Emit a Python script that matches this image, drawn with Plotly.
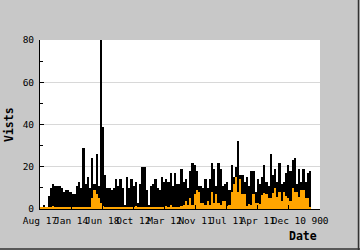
import plotly.graph_objects as go

# day index of each bar (one bar per week)
days = list(range(0, 875, 7))

# total visits (black bars)
visits = [1, 1, 2, 1, 6, 10, 12, 11, 11, 11,
          10, 8, 9, 9, 8, 7, 7, 11, 13, 10,
          29, 12, 15, 10, 24, 12, 26, 11, 80, 39,
          16, 10, 10, 9, 10, 14, 11, 14, 10, 2,
          15, 10, 14, 11, 13, 3, 12, 20, 20, 9,
          2, 11, 12, 14, 10, 9, 15, 13, 14, 13,
          17, 11, 17, 12, 12, 19, 13, 14, 10, 18,
          22, 21, 18, 11, 11, 10, 14, 10, 14, 22,
          19, 11, 22, 19, 11, 12, 13, 9, 21, 15,
          20, 32, 16, 16, 13, 15, 11, 18, 18, 8,
          14, 12, 15, 21, 13, 11, 26, 16, 19, 13,
          22, 12, 13, 17, 21, 18, 23, 24, 12, 19,
          13, 19, 13, 17, 18]

# secondary series (orange bars)
orange = [0.5, 0.5, 0.5, 0.5, 0.5, 0.5, 1.5, 0.5, 0.5, 0.5,
          0.5, 0.5, 0.5, 0.5, 1, 0.5, 0.5, 0.5, 0.5, 0.5,
          0.5, 0.5, 0.5, 1, 5, 9, 7, 5, 3, 1.5,
          0.5, 0.5, 0.5, 0.5, 0.5, 0.5, 0.5, 0.5, 0.5, 0.5,
          0.5, 1, 0.5, 0.5, 1.5, 0.5, 0.5, 0.5, 0.5, 0.5,
          0.5, 0.5, 0.5, 1, 0.5, 0.5, 0.5, 0.5, 1.5, 0.5,
          2, 0.5, 0.5, 0.5, 1, 1.5, 2, 4, 2, 5,
          2, 7, 9, 8, 3, 3, 2, 4, 2, 8,
          3, 7, 3, 2, 4, 4, 1.5, 2, 8, 12,
          15, 8, 14, 7, 7, 1.5, 2.5, 2, 7, 3,
          3, 2.5, 6.5, 7.5, 7, 5, 5, 7.5, 10, 5.5,
          8, 4, 8, 6, 5, 4, 10, 8, 8, 5.5,
          9, 9, 5, 5, 1]

tick_vals = [0, 100, 200, 300, 400, 500, 600, 700, 800, 900]
tick_text = ["Aug 17", "Jan 14", "Jun 18", "Oct 12", "Mar 12",
             "Nov 11", "Jul 11", "Apr 11", "Dec 10", "900"]

MONO = "DejaVu Sans Mono"

fig = go.Figure()
fig.add_trace(go.Bar(x=days, y=visits, width=7, marker=dict(color="#000000", line=dict(width=0)),
                     showlegend=False))
fig.add_trace(go.Bar(x=days, y=orange, width=7, marker=dict(color="#ffa500", line=dict(width=0)),
                     showlegend=False))

fig.update_layout(
    width=360, height=250,
    margin=dict(l=40, r=40, t=40, b=41),
    paper_bgcolor="#c8c8c8",
    plot_bgcolor="#ffffff",
    barmode="overlay",
    bargap=0,
    font=dict(family=MONO, size=9.5, color="#000000"),
    xaxis=dict(range=[0, 900], tickvals=tick_vals, ticktext=tick_text, tickangle=0,
               ticks="inside", ticklen=4, tickcolor="#000000",
               showline=True, linecolor="#000000", linewidth=1,
               showgrid=False, zeroline=False, ticklabelstandoff=3,
               tickfont=dict(family=MONO, size=9.5)),
    yaxis=dict(range=[0, 80], dtick=20, ticks="inside", ticklen=4, tickcolor="#000000",
               showline=True, linecolor="#000000", linewidth=1,
               showgrid=True, gridcolor="#d8d8d8", gridwidth=1, zeroline=False,
               ticklabelstandoff=3,
               minor=dict(dtick=10, ticks="inside", ticklen=3, tickcolor="#000000", showgrid=False),
               tickfont=dict(family=MONO, size=9.5)),
    annotations=[
        dict(text="<b>Date</b>", xref="paper", yref="paper", x=(319 - 40) / 280, y=(209 - 236) / 169,
             xanchor="right", yanchor="middle", showarrow=False,
             font=dict(family=MONO, size=11.5, color="#000000")),
        dict(text="<b>Vists</b>", xref="paper", yref="paper", x=(9 - 40) / 280, y=(209 - 125) / 169,
             xanchor="center", yanchor="middle", showarrow=False, textangle=-90,
             font=dict(family=MONO, size=11.5, color="#000000")),
    ],
    shapes=[
        dict(type="line", xref="paper", yref="paper", x0=(358.5 - 40) / 280, x1=(358.5 - 40) / 280,
             y0=(209 - 0) / 169, y1=(209 - 250) / 169, line=dict(color="#333333", width=1.5)),
        dict(type="line", xref="paper", yref="paper", x0=(0 - 40) / 280, x1=(360 - 40) / 280,
             y0=(209 - 249) / 169, y1=(209 - 249) / 169, line=dict(color="#333333", width=1.5)),
    ],
)

fig.write_html("out.html")
